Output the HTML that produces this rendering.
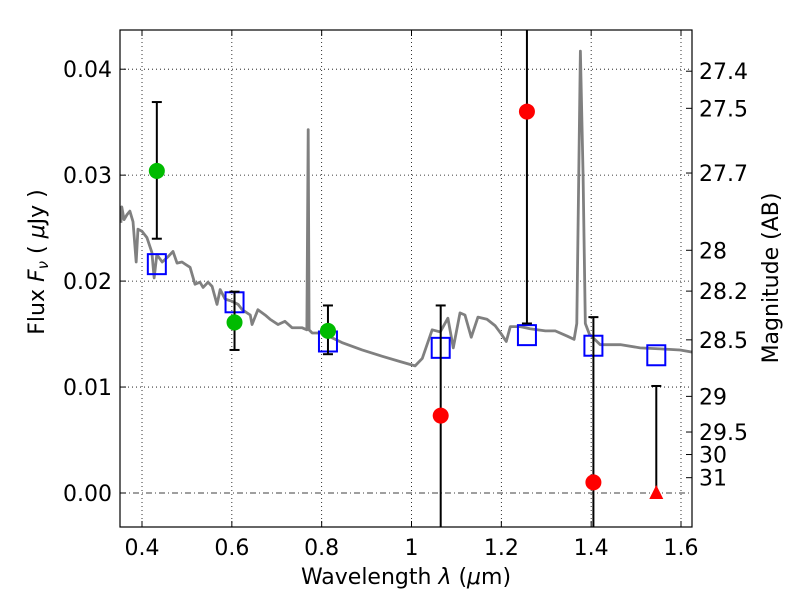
<!DOCTYPE html>
<html><head><meta charset="utf-8"><style>
body{margin:0;background:#fff;}
svg text{font-family:"DejaVu Sans","Liberation Sans",sans-serif;fill:#000;}
</style></head><body>
<svg id="chart" width="800" height="600" xmlns="http://www.w3.org/2000/svg">
<g id="grid"></g>
<g id="spec"></g>
<g id="marks"></g>
<rect x="120" y="30" width="572" height="497" fill="none" stroke="#000" stroke-width="1.2"/>
<g id="axes"></g>
<text x="406" y="584" font-size="22" text-anchor="middle">Wavelength  <tspan font-style="italic">λ</tspan> (<tspan font-style="italic">μ</tspan>m)</text>
<text transform="translate(44,262) rotate(-90)" font-size="22" text-anchor="middle">Flux  <tspan font-style="italic">F<tspan font-size="15" dy="4">ν</tspan></tspan><tspan dy="-4">  ( </tspan><tspan font-style="italic">μ</tspan>Jy )</text>
<text transform="translate(778,278) rotate(-90)" font-size="22" text-anchor="middle">Magnitude (AB)</text>
</svg>
<script>
const specLam=[0.353,0.355,0.360,0.367,0.373,0.380,0.387,0.391,0.400,0.411,0.422,0.427,0.433,0.445,0.458,0.469,0.478,0.489,0.496,0.507,0.518,0.529,0.536,0.547,0.556,0.567,0.574,0.585,0.600,0.614,0.623,0.641,0.645,0.658,0.674,0.685,0.703,0.718,0.734,0.756,0.767,0.770,0.772,0.779,0.801,0.845,0.890,0.935,0.975,1.008,1.024,1.046,1.064,1.081,1.093,1.108,1.119,1.133,1.148,1.168,1.186,1.200,1.211,1.220,1.242,1.264,1.298,1.320,1.347,1.362,1.368,1.376,1.382,1.387,1.396,1.420,1.465,1.509,1.554,1.598,1.625];
const specFlux=[0.0255,0.0270,0.0258,0.0263,0.0266,0.0256,0.0218,0.0249,0.0247,0.0241,0.0227,0.0203,0.0225,0.0218,0.0223,0.0228,0.0217,0.0218,0.0216,0.0213,0.0197,0.0199,0.0194,0.0199,0.0195,0.0178,0.0192,0.0183,0.0181,0.0178,0.0173,0.0168,0.0159,0.0173,0.0168,0.0164,0.0159,0.0162,0.0156,0.0156,0.0154,0.0343,0.0154,0.0151,0.0151,0.0142,0.0135,0.0129,0.0124,0.0120,0.0127,0.0154,0.0152,0.0165,0.0137,0.0170,0.0168,0.0147,0.0166,0.0164,0.0158,0.0150,0.0143,0.0157,0.0157,0.0155,0.0153,0.0153,0.0148,0.0145,0.0160,0.0417,0.0300,0.0160,0.0150,0.0140,0.0140,0.0137,0.0136,0.0135,0.0133];
const greenLam=[0.433,0.606,0.814];
const greenFlux=[0.0304,0.0161,0.0153];
const greenLo=[0.0240,0.0135,0.0131];
const greenHi=[0.0369,0.0190,0.0177];
const redLam=[1.065,1.257,1.405];
const redFlux=[0.0073,0.0360,0.0010];
const redLo=[-0.01,0.0160,-0.01];
const redHi=[0.0177,0.05,0.0166];
const limLam=[1.545];
const limFlux=[0.0];
const limHi=[0.0101];
const modelLam=[0.433,0.606,0.814,1.065,1.257,1.405,1.545];
const modelFlux=[0.0216,0.0180,0.0143,0.0137,0.0149,0.0139,0.0130];
const xTicks=[0.4,0.6,0.8,1.0,1.2,1.4,1.6];
const xTickLabels=["0.4","0.6","0.8","1","1.2","1.4","1.6"];
const yTicks=[0,0.01,0.02,0.03,0.04];
const yTickLabels=["0.00","0.01","0.02","0.03","0.04"];
const magTicks=[27.4,27.5,27.7,28,28.2,28.5,29,29.5,30,31];

const X0=120,X1=692,Y0=30,Y1=527,XMIN=0.351,XMAX=1.6245,YMIN=-0.00321,YMAX=0.0437;
const sx=v=>X0+(v-XMIN)/(XMAX-XMIN)*(X1-X0);
const sy=v=>Y1-(v-YMIN)/(YMAX-YMIN)*(Y1-Y0);
const NS='http://www.w3.org/2000/svg';
function mk(tag,attrs,parent){const e=document.createElementNS(NS,tag);for(const k in attrs)e.setAttribute(k,attrs[k]);parent.appendChild(e);return e;}
const grid=document.getElementById('grid'),spec=document.getElementById('spec'),marks=document.getElementById('marks'),axes=document.getElementById('axes');
const clip=(v,a,b)=>Math.max(a,Math.min(b,v));

xTicks.forEach((t,i)=>{
  const x=sx(t);
  const g=mk('line',{x1:x,x2:x,y1:Y0,y2:Y1,stroke:'#000','stroke-width':0.8,'stroke-dasharray':'1,3'},grid);
  
  
  mk('line',{x1:x,x2:x,y1:Y1,y2:Y1-6,stroke:'#000'},axes);
  mk('line',{x1:x,x2:x,y1:Y0,y2:Y0+6,stroke:'#000'},axes);
  const tx=mk('text',{x:x,y:555,'font-size':22,'text-anchor':'middle'},axes);
  tx.textContent=xTickLabels[i];
  
  
});
yTicks.forEach((t,i)=>{
  const y=sy(t);
  const g=mk('line',{x1:X0,x2:X1,y1:y,y2:y,stroke:'#000','stroke-width':0.8,'stroke-dasharray':t===0?'6,3,1,3':'1,3'},grid);
  
  
  mk('line',{x1:X0,x2:X0+6,y1:y,y2:y,stroke:'#000'},axes);
  const tx=mk('text',{x:112,y:y+8,'font-size':22,'text-anchor':'end'},axes);
  tx.textContent=yTickLabels[i];
  
  
});
magTicks.forEach(m=>{
  const f=Math.pow(10,(23.9-m)/2.5);
  const y=sy(f);
  mk('line',{x1:X1,x2:X1-6,y1:y,y2:y,stroke:'#000'},axes);
  const tx=mk('text',{x:699,y:y+8,'font-size':22},axes);
  tx.textContent=String(m);
  
  
});

const pl=mk('polyline',{points:specLam.map((l,i)=>sx(l)+','+sy(specFlux[i])).join(' '),fill:'none',stroke:'#808080','stroke-width':2.8,'stroke-linejoin':'round'},spec);



function errbar(l,lo,hi){
  const x=sx(l),y1=clip(sy(lo),Y0,Y1),y2=clip(sy(hi),Y0,Y1);
  mk('line',{x1:x,x2:x,y1:y1,y2:y2,stroke:'#000','stroke-width':2},marks);
  if(sy(lo)<Y1)mk('line',{x1:x-5,x2:x+5,y1:y1,y2:y1,stroke:'#000','stroke-width':2},marks);
  if(sy(hi)>Y0)mk('line',{x1:x-5,x2:x+5,y1:y2,y2:y2,stroke:'#000','stroke-width':2},marks);
}
modelLam.forEach((l,i)=>{
  const r=mk('rect',{x:sx(l)-9,y:sy(modelFlux[i])-10,width:18,height:20,fill:'none',stroke:'#0000ff','stroke-width':2},marks);
  
  
});
greenLam.forEach((l,i)=>{
  errbar(l,greenLo[i],greenHi[i]);
  const c=mk('circle',{cx:sx(l),cy:sy(greenFlux[i]),r:8,fill:'#00bb00'},marks);
  
  
});
redLam.forEach((l,i)=>{
  errbar(l,redLo[i],redHi[i]);
  const c=mk('circle',{cx:sx(l),cy:sy(redFlux[i]),r:8,fill:'#ff0000'},marks);
  
  
});
limLam.forEach((l,i)=>{
  const x=sx(l),y=sy(limFlux[i]);
  mk('line',{x1:x,x2:x,y1:y,y2:sy(limHi[i]),stroke:'#000','stroke-width':2},marks);
  mk('line',{x1:x-5,x2:x+5,y1:sy(limHi[i]),y2:sy(limHi[i]),stroke:'#000','stroke-width':2},marks);
  const t=mk('polygon',{points:`${x},${y-8} ${x-7},${y+6} ${x+7},${y+6}`,fill:'#ff0000'},marks);
  
  
});
</script>
</body></html>
